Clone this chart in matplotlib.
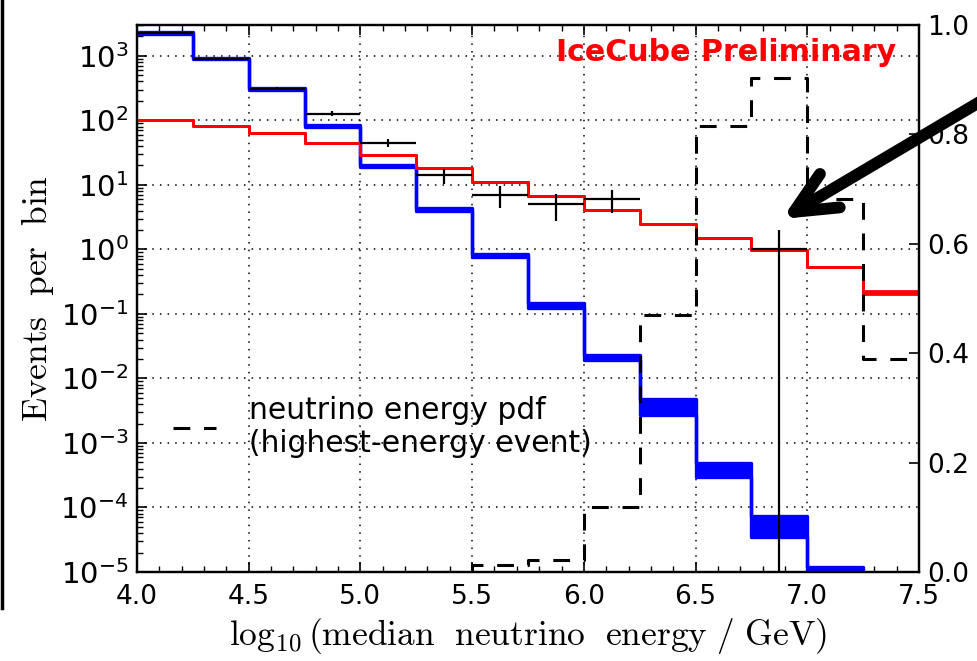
import numpy as np
import matplotlib
matplotlib.use('Agg')
import matplotlib.pyplot as plt
from matplotlib.ticker import MultipleLocator, LogLocator
from matplotlib.lines import Line2D

# bins in log10(E/GeV)
edges = np.arange(4.0, 7.51, 0.25)
centers = edges[:-1] + 0.125

# blue band (background), first 13 bins
blue_lo = [2200, 880, 300, 78, 19.0, 4.0, 0.76, 0.125, 0.019, 0.0027, 3.0e-4, 3.5e-5, 8e-6]
blue_hi = [2300, 920, 320, 84, 20.5, 4.3, 0.84, 0.150, 0.023, 0.0048, 4.9e-4, 7.4e-5, 1.2e-5]

# red model
red_lo = [102, 82, 63, 44, 29, 18, 11, 6.8, 4.1, 2.45, 1.49, 0.98, 0.53, 0.200]
red_hi = [102, 82, 63, 44, 29, 18, 11, 6.8, 4.1, 2.45, 1.49, 0.98, 0.53, 0.228]

# data with errors
nan = np.nan
data_val = [2270, 900, 310, 126, 45, 14, 7, 5, 6, nan, nan, 1, nan, nan]
data_err_lo = [48, 30, 18, 11, 6.7, 3.7, 2.6, 2.2, 2.4, nan, nan, 0.99999999, nan, nan]
data_err_hi = [48, 30, 18, 11, 6.7, 3.7, 2.6, 2.2, 2.4, nan, nan, 1.0, nan, nan]

# neutrino energy pdf of highest-energy event (right axis)
pdf = [0, 0, 0, 0, 0, 0, 0.012, 0.022, 0.119, 0.47, 0.815, 0.904, 0.682, 0.389]

fs_tick = 19

fig = plt.figure(figsize=(9.77, 6.61), dpi=100)
ax = fig.add_axes([137 / 977, 1 - 572 / 661, (919 - 137) / 977, (572 - 25) / 661])
ax.set_yscale('log')

# blue band
eb = edges[:len(blue_lo) + 1]
ax.fill_between(eb, np.append(blue_lo, blue_lo[-1]), np.append(blue_hi, blue_hi[-1]),
                step='post', color='#0000ff', lw=2.4, zorder=3)
# red band
ax.fill_between(edges, np.append(red_lo, red_lo[-1]), np.append(red_hi, red_hi[-1]),
                step='post', color='#ff0000', lw=2.0, zorder=4)
# data
ax.errorbar(centers, data_val, xerr=0.125, yerr=[data_err_lo, data_err_hi],
            fmt='none', ecolor='k', elinewidth=1.6, capsize=0, zorder=5)

ax.set_xlim(4.0, 7.5)
ax.set_ylim(1e-5, 3e3)
ax.xaxis.set_major_locator(MultipleLocator(0.5))
ax.xaxis.set_minor_locator(MultipleLocator(0.1))
ax.yaxis.set_major_locator(LogLocator(base=10, numticks=20))
ax.yaxis.set_minor_locator(LogLocator(base=10, subs=np.arange(2, 10), numticks=20))
ax.tick_params(which='both', direction='in', top=True, right=False, labelsize=fs_tick)
ax.tick_params(which='major', length=7, width=1.2)
ax.tick_params(which='minor', length=4, width=1.0)
ax.tick_params(axis='x', pad=9)
ax.tick_params(axis='y', pad=6, labelsize=21)
ax.grid(True, which='major', ls=(0, (1, 4)), color='k', lw=1.1)
for s in ax.spines.values():
    s.set_linewidth(1.6)

ax.set_xlabel(r'$\log_{10}(\mathrm{median\ \ neutrino\ \ energy\ /\ GeV})$',
              math_fontfamily='cm', fontsize=25.5, labelpad=4)
ax.set_ylabel(r'$\mathrm{Events\ \ per\ \ bin}$', math_fontfamily='cm',
              fontsize=25.5, labelpad=3)

ax.text(0.9706, 0.949, 'IceCube Preliminary', transform=ax.transAxes, color='#ff0000',
        fontsize=21.6, fontweight='bold', ha='right', va='center', zorder=6)

# right axis: pdf
ax2 = ax.twinx()
ax2.step(edges, np.append(pdf, pdf[-1]), where='post', color='k', lw=2.2,
         ls=(0, (5.5, 4.5)), label='neutrino energy pdf\n(highest-energy event)')
ax2.set_ylim(0.0, 1.0)
ax2.yaxis.set_major_locator(MultipleLocator(0.2))
ax2.tick_params(direction='in', length=7, width=1.2, labelsize=fs_tick, pad=6)
for s in ax2.spines.values():
    s.set_linewidth(1.6)
ax2.legend(loc='center left', bbox_to_anchor=(0.046, 0.265), frameon=False,
           fontsize=21.4, handlelength=1.45, handletextpad=1.1,
           borderpad=0, borderaxespad=0)

ax2.annotate('', xy=(782 / 977, 1 - 219 / 661), xycoords='figure fraction',
             xytext=(1.02, 1 - 92 / 661), textcoords='figure fraction',
             arrowprops=dict(arrowstyle='->,head_length=1.5,head_width=0.7',
                             lw=8.5, color='k', mutation_scale=20,
                             shrinkA=0, shrinkB=0, capstyle='round',
                             joinstyle='round'),
             annotation_clip=False, zorder=10)

fig.add_artist(Line2D([0.002, 0.002], [0.08, 1.0], transform=fig.transFigure,
                      color='k', lw=2.5))

fig.savefig('out.png', dpi=100)
